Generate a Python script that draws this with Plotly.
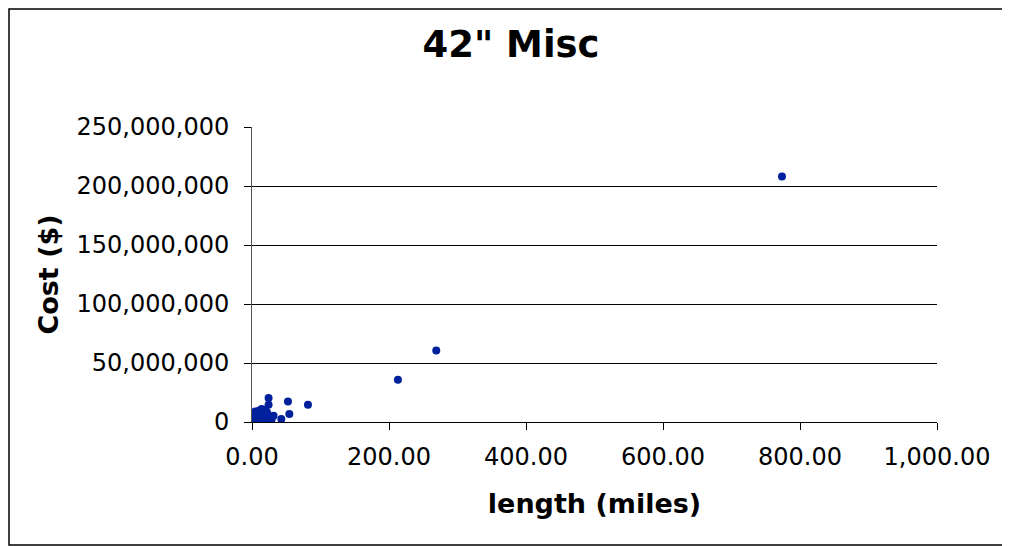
import plotly.graph_objects as go

# length in miles, cost in $
lengths = [773.7, 269.0, 213.0, 81.7, 52.5, 54.5, 42.8, 24.2, 24.2, 31.5,
           26.0, 17.0, 19.4, 4.8, 12.0, 1.0, 2.0, 3.0, 5.5, 6.5,
           8.0, 9.5, 11.0, 13.0, 15.0, 16.5, 18.0, 20.0, 21.5, 23.0,
           27.0, 7.0, 10.0, 14.0, 0.5, 3.5, 22.0, 28.5]
costs_m = [208.0, 60.6, 35.8, 14.6, 17.4, 6.8, 2.5, 20.3, 14.6, 5.3,
           3.0, 9.8, 10.4, 9.0, 7.6, 2.0, 0.5, 4.0, 1.2, 6.5,
           3.0, 0.8, 5.0, 2.2, 7.0, 1.0, 4.5, 2.5, 6.0, 1.5,
           0.5, 8.5, 9.5, 11.0, 0.3, 6.0, 8.0, 2.0]
costs = [c * 1e6 for c in costs_m]

x_ticks = [0, 200, 400, 600, 800, 1000]
x_tick_labels = ["0.00", "200.00", "400.00", "600.00", "800.00", "1,000.00"]
y_ticks = [0, 50e6, 100e6, 150e6, 200e6, 250e6]
y_tick_labels = ["0", "50,000,000", "100,000,000", "150,000,000", "200,000,000", "250,000,000"]

FONT = "Verdana, DejaVu Sans, sans-serif"

fig = go.Figure()
fig.add_trace(go.Scatter(
    x=lengths, y=costs, mode="markers",
    marker=dict(color="#00209C", size=8),
    showlegend=False,
))

# page body adds an 8px margin, so the figure is sized to fit what's left
fig.update_layout(
    width=1002, height=538,
    paper_bgcolor="white", plot_bgcolor="white",
    margin=dict(l=244, r=73, t=119, b=124),
    font=dict(family=FONT, color="black", size=24),
    title=dict(text="<b>42\" Misc</b>", x=0.502, xanchor="center",
               y=0.933, yanchor="middle", font=dict(size=37, family=FONT)),
    xaxis=dict(
        range=[0, 1000], tickvals=x_ticks, ticktext=x_tick_labels,
        showgrid=False, zeroline=False,
        showline=True, linecolor="black", linewidth=1,
        ticks="outside", ticklen=7, tickcolor="black",
        ticklabelstandoff=6,
        title=dict(text="<b>length (miles)</b>", font=dict(size=27), standoff=24),
    ),
    yaxis=dict(
        range=[0, 250e6], tickvals=y_ticks, ticktext=y_tick_labels,
        showgrid=True, gridcolor="black", gridwidth=1, zeroline=False,
        showline=True, linecolor="#555555", linewidth=1,
        ticks="outside", ticklen=7, tickcolor="black",
        ticklabelstandoff=10,
        title=dict(text="<b>Cost ($)</b>", font=dict(size=27), standoff=10),
    ),
)

# outer chart border
fig.add_shape(type="rect", xref="paper", yref="paper",
              x0=-243 / 685, x1=1 + 72 / 685,
              y0=-123 / 295, y1=1 + 118 / 295,
              line=dict(color="black", width=1.5), layer="below")

fig.write_html("out.html")
